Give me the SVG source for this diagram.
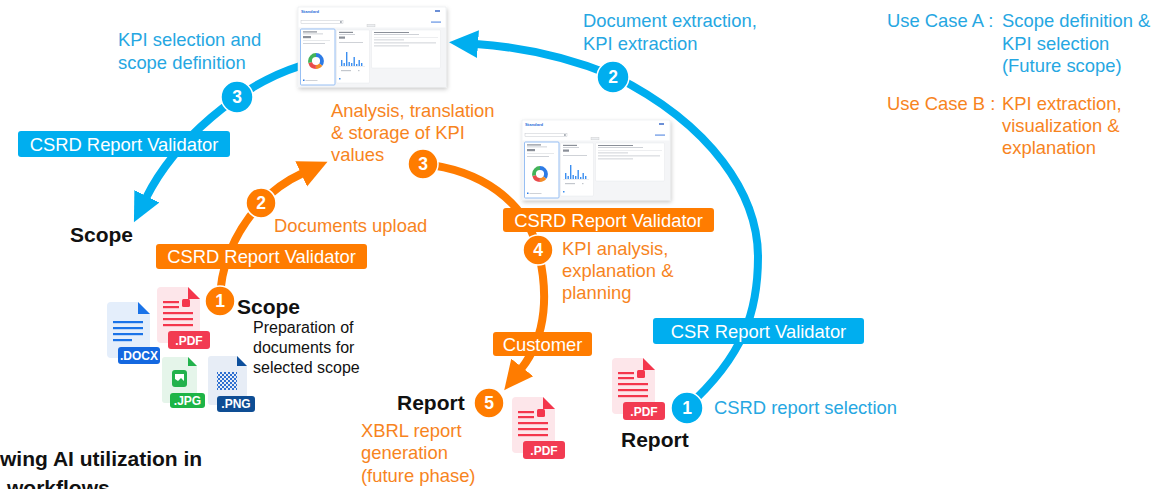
<svg xmlns="http://www.w3.org/2000/svg" width="1171" height="489" viewBox="0 0 1171 489">
<defs>
<style>
text{font-family:"Liberation Sans",Arial,sans-serif}
.t{font-size:18.4px}
.tb{fill:#26A7E2}
.to{fill:#F7841E}
.hd{font-size:21px;font-weight:700;fill:#111}
.sm{font-size:16px;fill:#111}
.lbl{font-size:18.4px;fill:#fff;text-anchor:middle}
.num{font-size:17.5px;font-weight:700;fill:#fff;text-anchor:middle}
.bxb{fill:#00AEEF}
.bxo{fill:#FF7C00}
.cb{fill:#00AEEF;stroke:#fff;stroke-width:1.5}
.co{fill:#FF7C00;stroke:#fff;stroke-width:1.5}
.lnb{fill:none;stroke:#00AEEF;stroke-width:8}
.lno{fill:none;stroke:#FF7C00;stroke-width:8}
.badge{font-size:12px;font-weight:700;fill:#fff;text-anchor:middle}
.g1{fill:#8a8f98}
.g2{fill:#c3c7cd}
</style>
<marker id="arB" markerUnits="userSpaceOnUse" viewBox="-2 -16 32 32" markerWidth="32" markerHeight="32" refX="0" refY="0" orient="auto"><path d="M-2,-14 L27,0 L-2,14 Z" fill="#00AEEF"/></marker>
<marker id="arO" markerUnits="userSpaceOnUse" viewBox="-2 -16 32 32" markerWidth="32" markerHeight="32" refX="0" refY="0" orient="auto"><path d="M-2,-14 L27,0 L-2,14 Z" fill="#FF7C00"/></marker>
<filter id="shadow" x="-10%" y="-10%" width="125%" height="130%"><feDropShadow dx="1" dy="2" stdDeviation="2" flood-color="#000" flood-opacity="0.22"/></filter>
<pattern id="chk" width="4" height="4" patternUnits="userSpaceOnUse"><rect width="2" height="2" fill="#2E6FD0"/><rect x="2" y="2" width="2" height="2" fill="#2E6FD0"/></pattern>

<!-- PDF file icon -->
<g id="pdf">
<path d="M4,0 H31 L43,12 V52 a4,4 0 0 1 -4,4 H4 a4,4 0 0 1 -4,-4 V4 a4,4 0 0 1 4,-4 Z" fill="#FDE6EA"/>
<path d="M31,0 L43,12 H31 Z" fill="#F4364C"/>
<g fill="#F4364C"><rect x="6" y="14" width="16" height="2.2"/><rect x="6" y="19" width="16" height="2.2"/><rect x="6" y="25" width="30" height="2.2"/><rect x="6" y="31" width="30" height="2.2"/><rect x="6" y="37" width="30" height="2.2"/><rect x="25" y="12" width="8" height="8" rx="1.5"/></g>
<rect x="11" y="44" width="42" height="18" rx="3" fill="#F23B52"/>
<text class="badge" x="32" y="57.5">.PDF</text>
</g>

<!-- dashboard screenshot -->
<g id="dash">
<rect x="0" y="0" width="148" height="80" fill="#fff" stroke="#e2e5e9" stroke-width="0.5" filter="url(#shadow)"/>
<text x="3" y="6" font-size="4.2" font-weight="700" fill="#2f6fd8">Standard</text>
<rect x="137" y="3" width="5" height="2" fill="#6b8fd6"/>
<rect x="3" y="13.5" width="42" height="3" fill="none" stroke="#b8bcc4" stroke-width="0.4"/>
<rect x="42" y="14.2" width="1.8" height="1.6" fill="#9aa0a8"/>
<rect x="133" y="14.4" width="10" height="1.4" fill="#7aa2e8"/>
<rect x="69" y="17.3" width="8" height="2.6" fill="#eceef1" stroke="#bbb" stroke-width="0.3"/>
<rect x="0" y="20.5" width="148" height="59.5" fill="#f4f5f7"/>
<!-- card 1 -->
<rect x="2.5" y="22" width="34.5" height="56" rx="1" fill="#fff" stroke="#8bb8f2" stroke-width="0.9"/>
<rect class="g1" x="5" y="24.3" width="14" height="1.2"/>
<rect class="g2" x="5" y="26.5" width="20" height="0.8"/>
<rect class="g1" x="5" y="29" width="8" height="2.2"/>
<rect class="g2" x="5" y="33.5" width="27" height="0.4"/>
<rect class="g2" x="5" y="36" width="22" height="0.8"/>
<g fill="none" stroke-width="3.8" transform="rotate(-90 18 54)">
<circle cx="18" cy="54" r="6" stroke="#2d7be5" stroke-dasharray="13 24.7"/>
<circle cx="18" cy="54" r="6" stroke="#f28c28" stroke-dasharray="0 13 5.5 19.2"/>
<circle cx="18" cy="54" r="6" stroke="#e94b4b" stroke-dasharray="0 18.5 7.5 11.7"/>
<circle cx="18" cy="54" r="6" stroke="#42b35a" stroke-dasharray="0 26 11.7 0"/>
</g>
<rect x="5" y="72.5" width="1.5" height="1.5" fill="#2d7be5"/>
<rect class="g2" x="7.5" y="73" width="12" height="0.8"/>
<!-- card 2 -->
<rect x="38.5" y="23" width="33" height="53" rx="1" fill="#fff" stroke="#e1e4e8" stroke-width="0.4"/>
<rect class="g1" x="41" y="24.8" width="14" height="1.2"/>
<rect class="g2" x="41" y="27" width="16" height="0.8"/>
<rect class="g1" x="41" y="29.5" width="6" height="2.2"/>
<rect class="g2" x="41" y="35" width="24" height="0.8"/>
<g fill="#3b8ef0"><rect x="43" y="53" width="1.4" height="6"/><rect x="45.5" y="56" width="1.4" height="3"/><rect x="48" y="45" width="1.4" height="14"/><rect x="50.5" y="55" width="1.4" height="4"/><rect x="53" y="56" width="1.4" height="3"/><rect x="55.5" y="50" width="1.4" height="9"/><rect x="58" y="57" width="1.4" height="2"/><rect x="60.5" y="53" width="1.4" height="6"/><rect x="63" y="56" width="1.4" height="3"/></g>
<rect class="g2" x="41" y="59.3" width="26" height="0.3"/>
<rect class="g2" x="43" y="63" width="10" height="1.2"/>
<rect class="g2" x="60" y="63" width="1.5" height="1.2"/>
<rect x="41" y="71" width="1.5" height="1.5" fill="#3b8ef0"/>
<!-- card 3 -->
<rect x="73.5" y="23" width="69" height="38" rx="1" fill="#fff" stroke="#e1e4e8" stroke-width="0.4"/>
<rect class="g1" x="76" y="25" width="35" height="1"/>
<rect class="g2" x="76" y="27.2" width="45" height="0.8"/>
<rect class="g2" x="76" y="30.5" width="64" height="0.3"/>
<rect class="g2" x="76" y="32.5" width="30" height="0.8"/>
<rect class="g2" x="76" y="35.5" width="62" height="0.8"/>
<rect class="g2" x="76" y="38.5" width="35" height="0.8"/>
</g>
</defs>

<rect width="1171" height="489" fill="#fff"/>

<!-- connectors -->
<g id="connectors">
<path class="lnb" d="M686,408 C745,355 758,310 758,257 C758,195 712,125 614,76 C570,58 520,47 476,44" marker-end="url(#arB)"/>
<path class="lnb" d="M300,66 C240,85 175,140 146,198" marker-end="url(#arB)"/>
<path class="lno" d="M220,301 C220,270 232,235 261,203 C275,188 290,179 303,173" marker-end="url(#arO)"/>
<path class="lno" d="M423,164 C480,170 525,200 538,250 C548,290 548,335 521,369" marker-end="url(#arO)"/>
</g>

<!-- dashboards -->
<g id="dashboard-a"><use href="#dash" x="298" y="7"/></g>
<g id="dashboard-b"><use href="#dash" x="522" y="120"/></g>

<!-- blue flow: scope definition -->
<g id="blue-validator-left">
<rect class="bxb" x="18" y="131" width="212" height="26" rx="3"/>
<text class="lbl" x="124" y="150.5">CSRD Report Validator</text>
</g>
<g id="blue-step3">
<circle class="cb" cx="237" cy="97" r="16"/>
<text class="num" x="237" y="103">3</text>
<text class="t tb" x="118" y="46">KPI selection and</text>
<text class="t tb" x="118" y="69">scope definition</text>
</g>
<g id="scope-target">
<text class="hd" x="70" y="242">Scope</text>
</g>
<g id="blue-step2">
<circle class="cb" cx="613" cy="77" r="16"/>
<text class="num" x="613" y="83">2</text>
<text class="t tb" x="583" y="27">Document extraction,</text>
<text class="t tb" x="583" y="50">KPI extraction</text>
</g>
<g id="blue-validator-right">
<rect class="bxb" x="653" y="318" width="211" height="26" rx="3"/>
<text class="lbl" x="758.5" y="337.5">CSR Report Validator</text>
</g>
<g id="blue-step1">
<use href="#pdf" x="612" y="358"/>
<circle class="cb" cx="687" cy="408" r="16"/>
<text class="num" x="687" y="414">1</text>
<text class="t tb" x="714" y="414">CSRD report selection</text>
<text class="hd" x="621" y="447">Report</text>
</g>

<!-- orange flow: KPI extraction -->
<g id="orange-step1">
<!-- DOCX -->
<g transform="translate(107,302)">
<path d="M4,0 H31 L43,12 V52 a4,4 0 0 1 -4,4 H4 a4,4 0 0 1 -4,-4 V4 a4,4 0 0 1 4,-4 Z" fill="#E4EEFB"/>
<path d="M31,0 L43,12 H31 Z" fill="#1A73E8"/>
<g fill="#1A73E8"><rect x="6" y="19" width="30" height="2.2"/><rect x="6" y="25" width="30" height="2.2"/><rect x="6" y="31" width="30" height="2.2"/><rect x="6" y="37" width="19" height="2.2"/></g>
</g>
<use href="#pdf" x="157" y="287"/>
<g transform="translate(107,302)">
<rect x="11" y="45" width="42" height="17" rx="3" fill="#1468E0"/>
<text class="badge" x="32" y="58" font-size="11.5">.DOCX</text>
</g>
<!-- JPG -->
<g transform="translate(162,357)">
<path d="M3,0 H26 L35,9 V43 a3,3 0 0 1 -3,3 H3 a3,3 0 0 1 -3,-3 V3 a3,3 0 0 1 3,-3 Z" fill="#E5F5EA"/>
<path d="M26,0 L35,9 H26 Z" fill="#22B24C"/>
<rect x="10" y="13" width="15" height="17" rx="3" fill="#22B24C"/>
<path d="M13,17 H22 V24 L19,21 L16,24 L13,22 Z" fill="#fff"/>
<rect x="8" y="36" width="35" height="15" rx="3" fill="#1DB446"/>
<text class="badge" x="25.5" y="47.8" font-size="10.5">.JPG</text>
</g>
<!-- PNG -->
<g transform="translate(208,356)">
<path d="M3,0 H29 L39,10 V46 a3,3 0 0 1 -3,3 H3 a3,3 0 0 1 -3,-3 V3 a3,3 0 0 1 3,-3 Z" fill="#E7EDF6"/>
<path d="M29,0 L39,10 H29 Z" fill="#0D4F9C"/>
<rect x="9" y="16" width="20" height="18" fill="url(#chk)"/>
<rect x="9" y="40" width="38" height="16" rx="3" fill="#0E4D94"/>
<text class="badge" x="28" y="52.3" font-size="11">.PNG</text>
</g>
<circle class="co" cx="220" cy="301" r="15"/>
<text class="num" x="220" y="307">1</text>
<text class="hd" x="237" y="314">Scope</text>
<text class="sm" x="253" y="333">Preparation of</text>
<text class="sm" x="253" y="353">documents for</text>
<text class="sm" x="253" y="373">selected scope</text>
</g>
<g id="orange-validator-left">
<rect class="bxo" x="156" y="244" width="211" height="25" rx="3"/>
<text class="lbl" x="261.5" y="263">CSRD Report Validator</text>
</g>
<g id="orange-step2">
<circle class="co" cx="261" cy="203" r="15"/>
<text class="num" x="261" y="209">2</text>
<text class="t to" x="274" y="232">Documents upload</text>
</g>
<g id="orange-step3">
<circle class="co" cx="423" cy="164" r="15"/>
<text class="num" x="423" y="170">3</text>
<text class="t to" x="331" y="117">Analysis, translation</text>
<text class="t to" x="331" y="139">&amp; storage of KPI</text>
<text class="t to" x="331" y="161">values</text>
</g>
<g id="orange-validator-right">
<rect class="bxo" x="503" y="208" width="211" height="24" rx="3"/>
<text class="lbl" x="608.5" y="226.5">CSRD Report Validator</text>
</g>
<g id="orange-step4">
<circle class="co" cx="538" cy="250" r="15"/>
<text class="num" x="538" y="256">4</text>
<text class="t to" x="562" y="255">KPI analysis,</text>
<text class="t to" x="562" y="277">explanation &amp;</text>
<text class="t to" x="562" y="299">planning</text>
</g>
<g id="orange-customer">
<rect class="bxo" x="493" y="332" width="99" height="24" rx="3"/>
<text class="lbl" x="542.5" y="350.5">Customer</text>
</g>
<g id="orange-step5">
<circle class="co" cx="489" cy="403" r="15"/>
<text class="num" x="489" y="409">5</text>
<text class="hd" x="397" y="410">Report</text>
<text class="t to" x="361" y="437">XBRL report</text>
<text class="t to" x="361" y="459">generation</text>
<text class="t to" x="361" y="482">(future phase)</text>
<use href="#pdf" x="512" y="397"/>
</g>

<!-- legend -->
<g id="legend">
<text class="t tb" x="887" y="27">Use Case A :</text>
<text class="t tb" x="1002" y="27">Scope definition &amp;</text>
<text class="t tb" x="1002" y="50">KPI selection</text>
<text class="t tb" x="1002" y="72">(Future scope)</text>
<text class="t to" x="887" y="110">Use Case B :</text>
<text class="t to" x="1002" y="110">KPI extraction,</text>
<text class="t to" x="1002" y="132">visualization &amp;</text>
<text class="t to" x="1002" y="154">explanation</text>
</g>

<!-- caption, clipped by the page edge -->
<g id="caption">
<text class="hd" x="0" y="466">wing AI utilization in</text>
<text class="hd" x="7" y="495">workflows</text>
</g>
</svg>
